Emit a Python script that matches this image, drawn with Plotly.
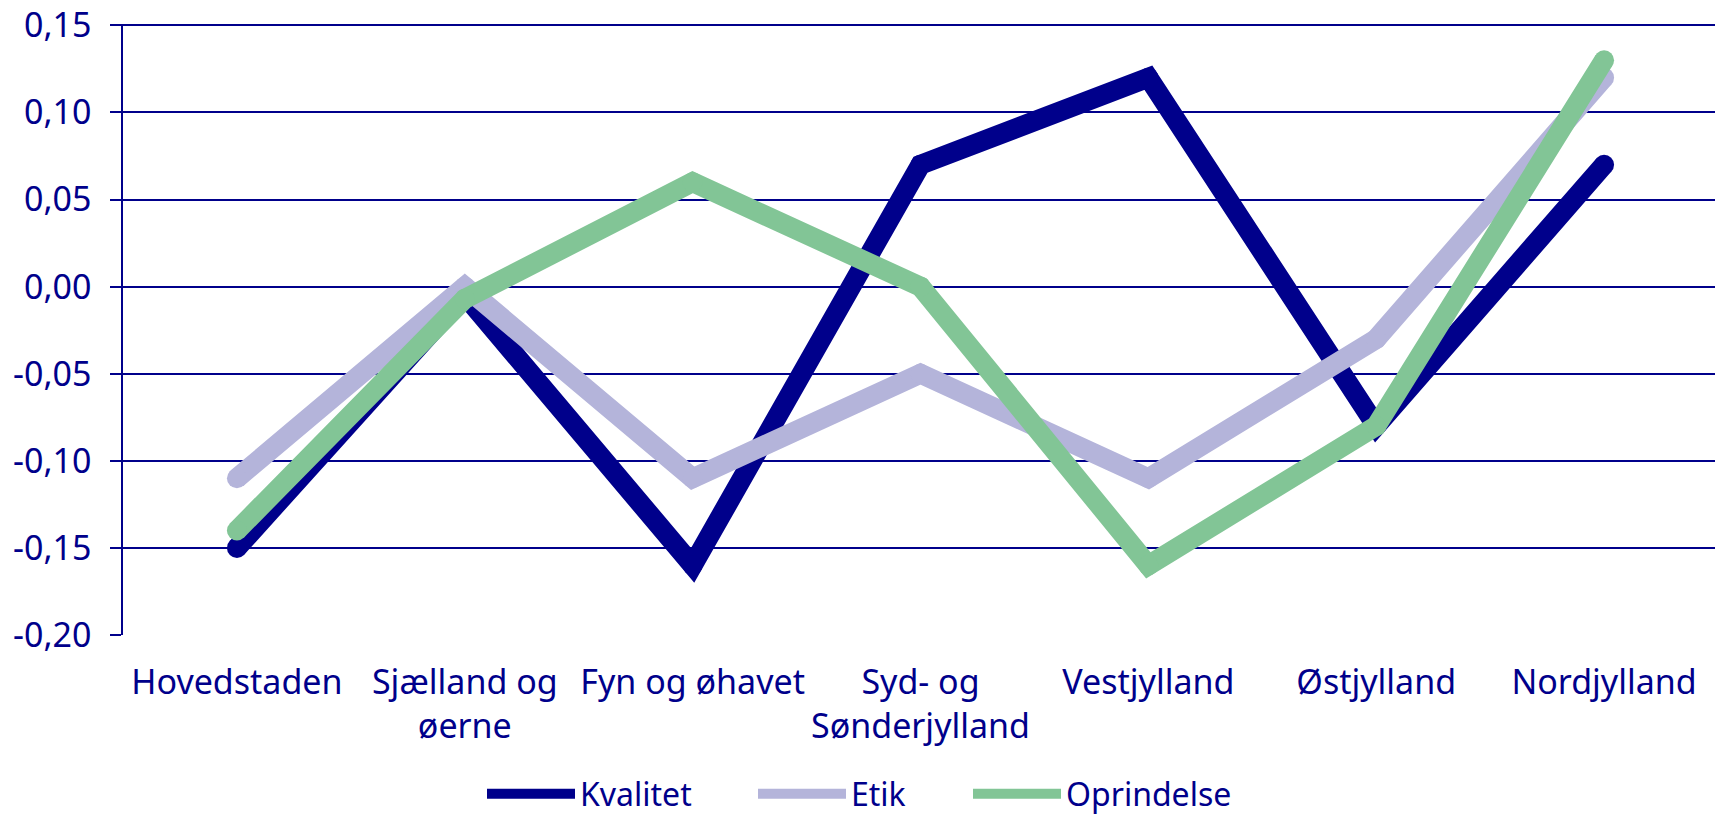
import plotly.graph_objects as go

categories = ["Hovedstaden", "Sjælland og<br>øerne", "Fyn og øhavet", "Syd- og<br>Sønderjylland",
              "Vestjylland", "Østjylland", "Nordjylland"]
kvalitet = [-0.15, -0.005, -0.16, 0.07, 0.12, -0.08, 0.07]
etik = [-0.11, 0.0, -0.11, -0.05, -0.11, -0.03, 0.12]
oprindelse = [-0.14, -0.007, 0.06, 0.0, -0.16, -0.08, 0.13]

y_tickvals = [0.15, 0.10, 0.05, 0.0, -0.05, -0.10, -0.15, -0.20]
y_ticktext = ["0,15", "0,10", "0,05", "0,00", "-0,05", "-0,10", "-0,15", "-0,20"]

series = [("Kvalitet", kvalitet, "#00008B"),
          ("Etik", etik, "#B4B4DA"),
          ("Oprindelse", oprindelse, "#82C596")]

NAVY = "#00008B"
LW = 20
W, H = 1723, 814
OFF = 8  # page body margin
legend_names = ["legend", "legend2", "legend3"]
legend_left_px = [487, 758, 973]

fig = go.Figure()
for (name, vals, col), lg in zip(series, legend_names):
    fig.add_trace(go.Scatter(x=categories, y=vals, mode="lines", name=name,
                             line=dict(color=col, width=LW), legendgroup=name, legend=lg))
    fig.add_trace(go.Scatter(x=categories, y=vals, mode="markers", showlegend=False,
                             marker=dict(color=col, size=LW, line=dict(width=0)),
                             legendgroup=name, hoverinfo="skip"))

legend_common = dict(orientation="h", xref="container", yref="container",
                     xanchor="left", y=(H - (794 - OFF)) / H, yanchor="middle",
                     font=dict(size=32, color=NAVY, family="Noto Sans"), itemwidth=88,
                     bgcolor="rgba(0,0,0,0)", borderwidth=0)
legends = {}
for lg, xl in zip(legend_names, legend_left_px):
    legends[lg] = dict(legend_common, x=(xl - OFF - 5) / W)

fig.update_layout(
    width=W, height=H,
    margin=dict(l=123 - OFF, r=W - (1718 - OFF), t=24 - OFF, b=H - (635 - OFF), autoexpand=False),
    paper_bgcolor="white", plot_bgcolor="white",
    font=dict(family="Noto Sans", size=34, color=NAVY),
    showlegend=True,
    **legends,
)
fig.update_xaxes(type="category", range=[-0.5, 6.5], showgrid=False, zeroline=False,
                 showline=False, ticks="", automargin=False, ticklabelstandoff=24,
                 tickfont=dict(size=34, color=NAVY))
fig.update_yaxes(range=[-0.2, 0.1508], tickvals=y_tickvals, ticktext=y_ticktext,
                 showgrid=True, gridcolor=NAVY, gridwidth=1.5, zeroline=False,
                 showline=True, linecolor=NAVY, linewidth=1.5, automargin=False,
                 ticks="outside", ticklen=11, tickcolor=NAVY, tickwidth=1.5,
                 ticklabeloverflow="allow",
                 ticklabelstandoff=12, tickfont=dict(size=34, color=NAVY))

fig.write_html("out.html")
